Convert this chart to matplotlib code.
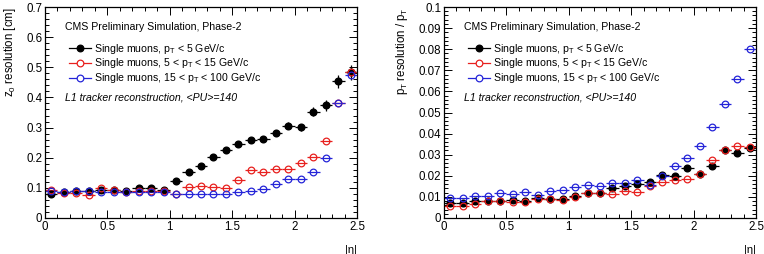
"""Tracking resolution vs |eta| for single muons (L1 tracker, PU 140)."""

import matplotlib

matplotlib.use("Agg")
import matplotlib.pyplot as plt
from matplotlib.lines import Line2D
from matplotlib.ticker import MultipleLocator

plt.rcParams["font.family"] = ["Liberation Sans", "DejaVu Sans"]
plt.rcParams["mathtext.fontset"] = "custom"
plt.rcParams["mathtext.rm"] = "Liberation Sans"
plt.rcParams["mathtext.it"] = "Liberation Sans:italic"

eta = [0.05, 0.15, 0.25, 0.35, 0.45, 0.55, 0.65, 0.75, 0.85, 0.95,
       1.05, 1.15, 1.25, 1.35, 1.45, 1.55, 1.65, 1.75, 1.85, 1.95,
       2.05, 2.15, 2.25, 2.35, 2.45]

series_labels = [
    r"Single muons, p$_{\rm T}$ < 5 GeV/c",
    r"Single muons, 5 < p$_{\rm T}$ < 15 GeV/c",
    r"Single muons, 15 < p$_{\rm T}$ < 100 GeV/c",
]
colors = ["black", "#e8201e", "#2424d8"]

# z0 resolution [cm]
z0_low = [0.078, 0.086, 0.091, 0.089, 0.094, 0.094, 0.089, 0.100, 0.100, 0.094,
          0.122, 0.153, 0.172, 0.203, 0.224, 0.245, 0.258, 0.261, 0.282, 0.306,
          0.301, 0.352, 0.374, 0.454, 0.483]
z0_low_err = [0.005, 0.004, 0.004, 0.004, 0.004, 0.004, 0.004, 0.004, 0.004, 0.005,
              0.005, 0.006, 0.006, 0.007, 0.007, 0.008, 0.009, 0.009, 0.010, 0.012,
              0.012, 0.015, 0.018, 0.022, 0.025]
z0_mid = [0.092, 0.083, 0.083, 0.077, 0.099, 0.092, 0.087, 0.089, 0.088, 0.088,
          0.080, 0.102, 0.106, 0.102, 0.101, 0.126, 0.159, 0.154, 0.163, 0.162,
          0.181, 0.203, 0.254, 0.381, 0.483]
z0_high = [0.089, 0.086, 0.088, 0.089, 0.087, 0.086, 0.086, 0.086, 0.087, 0.087,
           0.080, 0.079, 0.078, 0.078, 0.078, 0.086, 0.091, 0.097, 0.112, 0.128,
           0.131, 0.153, 0.199, 0.383, 0.474]

# relative pT resolution
pt_low = [0.0071, 0.0071, 0.0080, 0.0082, 0.0079, 0.0087, 0.0082, 0.0094, 0.0091, 0.0090,
          0.0102, 0.0118, 0.0120, 0.0142, 0.0150, 0.0162, 0.0170, 0.0203, 0.0197, 0.0236,
          0.0208, 0.0247, 0.0320, 0.0310, 0.0334]
pt_low_err = [0.0005, 0.0005, 0.0005, 0.0005, 0.0005, 0.0005, 0.0005, 0.0005, 0.0005, 0.0005,
              0.0005, 0.0005, 0.0005, 0.0006, 0.0006, 0.0006, 0.0006, 0.0007, 0.0007, 0.0008,
              0.0008, 0.0009, 0.0010, 0.0011, 0.0012]
pt_mid = [0.0058, 0.0058, 0.0066, 0.0080, 0.0082, 0.0076, 0.0076, 0.0091, 0.0091, 0.0087,
          0.0099, 0.0117, 0.0117, 0.0113, 0.0129, 0.0123, 0.0150, 0.0170, 0.0181, 0.0186,
          0.0208, 0.0276, 0.0320, 0.0343, 0.0337]
pt_high = [0.0093, 0.0096, 0.0102, 0.0102, 0.0118, 0.0113, 0.0121, 0.0110, 0.0126, 0.0131,
           0.0145, 0.0156, 0.0153, 0.0164, 0.0167, 0.0178, 0.0158, 0.0197, 0.0247, 0.0283,
           0.0340, 0.0430, 0.0539, 0.0661, 0.0803]

W, H = 764, 254
fig = plt.figure(figsize=(W / 100, H / 100), dpi=100)


def panel(left_px, ylim, ymajor, yminor, ylabel, low, low_err, mid, high, yfmt):
    ax = fig.add_axes([left_px / W, 36 / H, 312 / W, 211 / H])
    xe = [0.05] * len(eta)
    style = dict(fmt="o", markersize=4.8, elinewidth=0.9, capsize=0, lw=0.9)
    ax.errorbar(eta, low, xerr=xe, yerr=low_err, color=colors[0], mfc=colors[0], **style)
    ax.errorbar(eta, mid, xerr=xe, color=colors[1], mfc="none", mew=0.9, **style)
    ax.errorbar(eta, high, xerr=xe, color=colors[2], mfc="none", mew=0.9, **style)

    ax.set_xlim(0, 2.5)
    ax.set_ylim(*ylim)
    ax.xaxis.set_major_locator(MultipleLocator(0.5))
    ax.xaxis.set_minor_locator(MultipleLocator(0.1))
    ax.yaxis.set_major_locator(MultipleLocator(ymajor))
    ax.yaxis.set_minor_locator(MultipleLocator(yminor))
    ax.xaxis.set_major_formatter(lambda v, p: f"{v:g}")
    ax.yaxis.set_major_formatter(lambda v, p: yfmt(v))
    ax.tick_params(which="both", direction="in", top=True, right=True,
                   labelsize=8.3, width=0.7, pad=2)
    ax.tick_params(which="major", length=6)
    ax.tick_params(which="minor", length=3)
    for s in ax.spines.values():
        s.set_linewidth(0.9)

    ax.set_ylabel(ylabel, fontsize=8.3, loc="top", labelpad=6)
    ax.text(1.0, -0.13, "|η|", transform=ax.transAxes, fontsize=8,
            ha="right", va="top")

    ax.text(0.064, 0.905, "CMS Preliminary Simulation, Phase-2",
            transform=ax.transAxes, fontsize=7.6, va="center")
    ax.text(0.064, 0.573, "L1 tracker reconstruction, <PU>=140",
            transform=ax.transAxes, fontsize=7.6, va="center", style="italic")
    handles = [Line2D([], [], color=c, marker="o", markersize=4.8, lw=0.9,
                      mew=0.9, mfc=(c if i == 0 else "white"))
               for i, c in enumerate(colors)]
    ax.legend(handles, series_labels, loc="upper left",
              bbox_to_anchor=(0.076, 0.836), frameon=False,
              fontsize=7.6, handlelength=2.1, handletextpad=0.25,
              labelspacing=0.08, borderpad=0, borderaxespad=0)
    return ax


panel(45, (0, 0.7), 0.1, 0.02, r"z$_0$ resolution [cm]",
      z0_low, z0_low_err, z0_mid, z0_high, lambda v: f"{v:g}")
panel(444, (0, 0.1), 0.01, 0.002, r"p$_{\rm T}$ resolution / p$_{\rm T}$",
      pt_low, pt_low_err, pt_mid, pt_high, lambda v: f"{round(v, 3):g}")

fig.savefig("out.png", dpi=100)
